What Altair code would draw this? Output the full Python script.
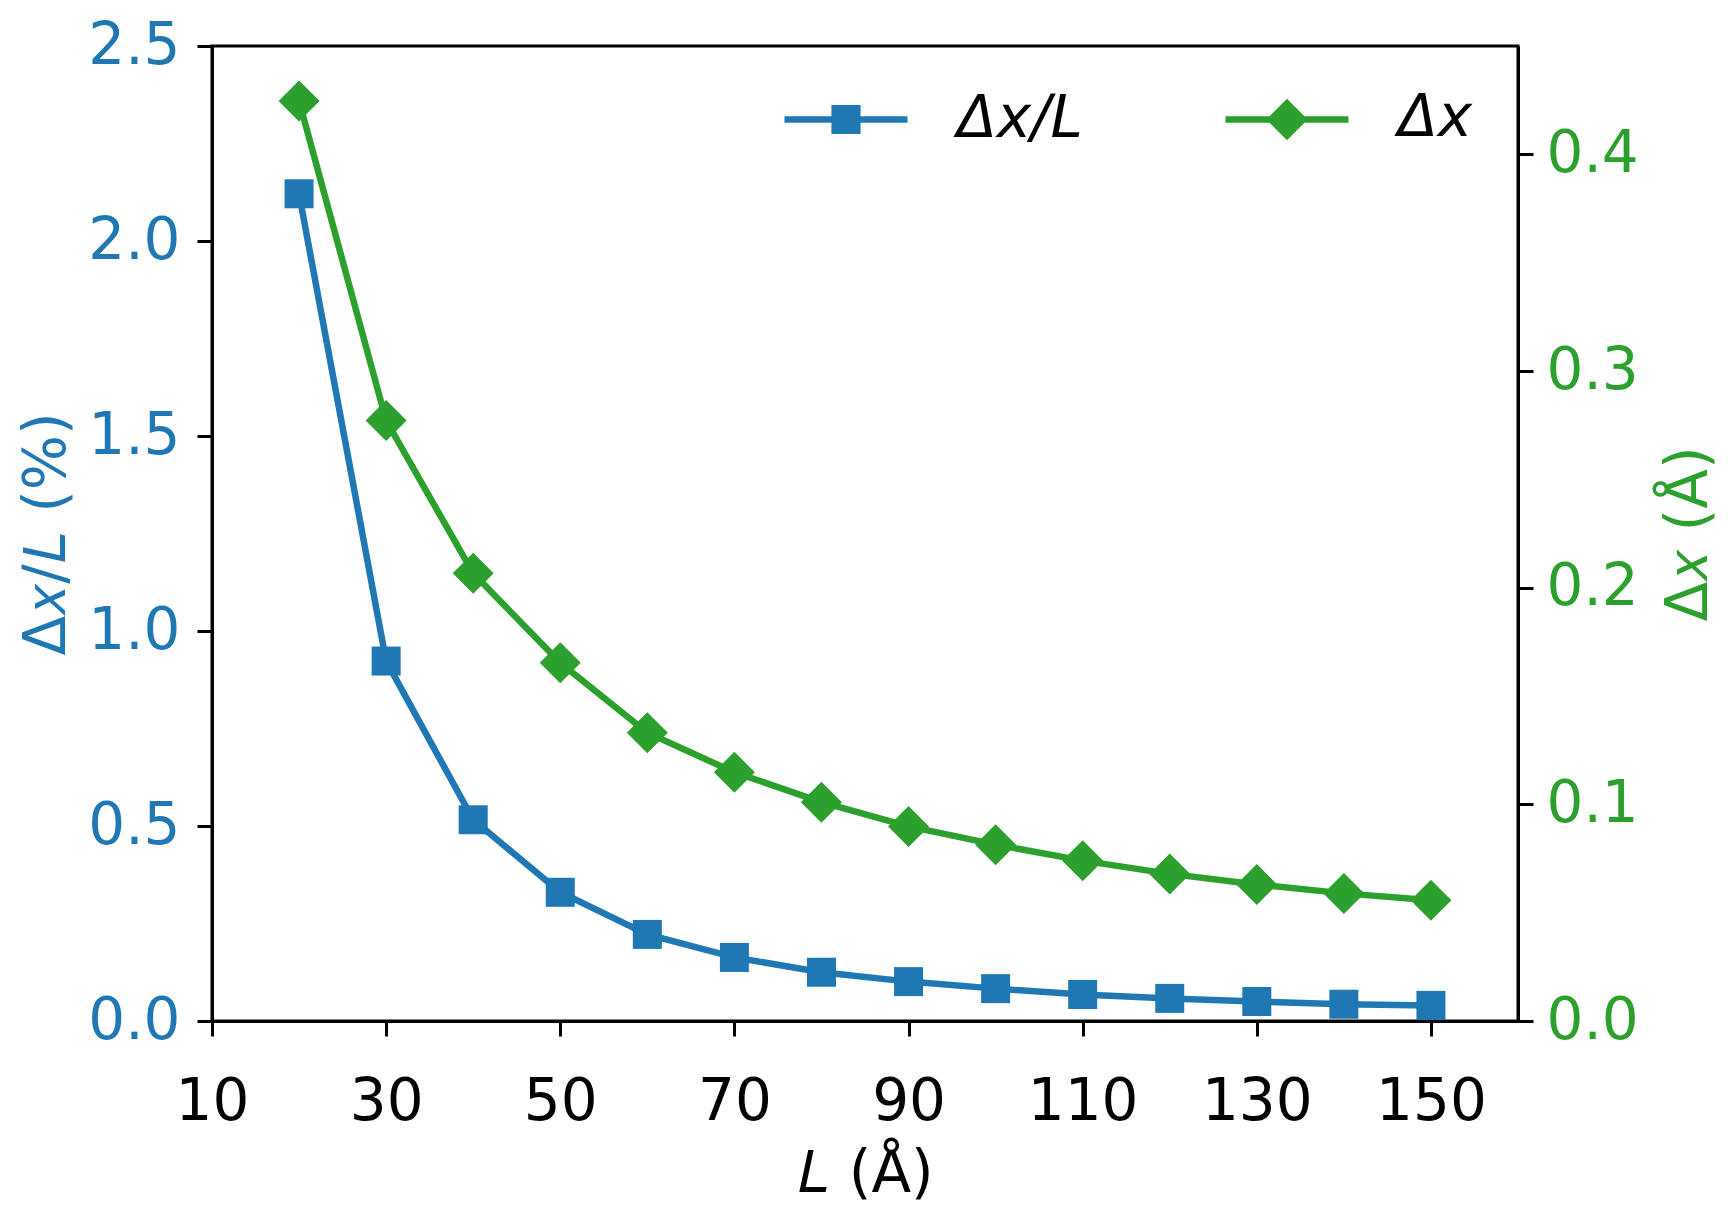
import altair as alt
import pandas as pd

# ---- data ----
L_vals = [20, 30, 40, 50, 60, 70, 80, 90, 100, 110, 120, 130, 140, 150]
dxL_vals = [2.121, 0.923, 0.516, 0.330, 0.222, 0.163, 0.125, 0.101, 0.083, 0.068, 0.058, 0.050, 0.043, 0.040]
dx_vals = [0.4246, 0.2771, 0.2066, 0.1653, 0.1330, 0.1148, 0.1010, 0.0898, 0.0814, 0.0740, 0.0679, 0.0630, 0.0589, 0.0557]
series = ["Δx/L", "Δx"]
colors = ["#1f77b4", "#2ca02c"]
x_ticks = [10, 30, 50, 70, 90, 110, 130, 150]
left_ticks = [0.0, 0.5, 1.0, 1.5, 2.0, 2.5]
right_ticks = [0.0, 0.1, 0.2, 0.3, 0.4]

df_b = pd.DataFrame({"L": L_vals, "v": dxL_vals, "s": series[0]})
df_g = pd.DataFrame({"L": L_vals, "v": dx_vals, "s": series[1]})
df_key = pd.DataFrame({"L": [L_vals[0], L_vals[0]], "v": [dxL_vals[0], dxL_vals[0]], "s": series})

FONT = "DejaVu Sans"
FS = 58
LW = 6.5

# legend glyphs: a line segment with the marker in the middle
sq_path = "M-1,0H1M-0.184,-0.184H0.184V0.184H-0.184Z"
dm_path = "M-1,0H1M-0.262,0L0,-0.262L0.262,0L0,0.262Z"

legend = alt.Legend(
    title=None,
    orient="none",
    legendX=569,
    legendY=8,
    direction="horizontal",
    columns=2,
    columnPadding=129,
    labelOffset=46,
    padding=0,
    symbolSize=15129,
    symbolStrokeWidth=LW,
    symbolOpacity=1,
    labelFontSize=FS,
    labelFont=FONT,
    labelFontStyle="italic",
    labelColor="black",
    labelLimit=500,
)

fill_scale = alt.Scale(domain=series, range=colors)
shape_scale = alt.Scale(domain=series, range=[sq_path, dm_path])

x_enc = alt.X(
    "L:Q",
    scale=alt.Scale(domain=[10, 160], nice=False, zero=False),
    axis=alt.Axis(values=x_ticks, format="d", title="𝐿 (Å)", labelPadding=37, titlePadding=14,
                  labelFlush=False),
)

y_left = alt.Y(
    "v:Q",
    scale=alt.Scale(domain=[0, 2.5], nice=False),
    axis=alt.Axis(
        orient="left", values=left_ticks, format=".1f", title="Δ𝑥/𝐿 (%)",
        labelColor=colors[0], titleColor=colors[0], labelPadding=17, titlePadding=11,
    ),
)
y_right = alt.Y(
    "v:Q",
    scale=alt.Scale(domain=[0, 0.45], nice=False),
    axis=alt.Axis(
        orient="right", values=right_ticks, format=".1f", title="Δ𝑥 (Å)",
        labelColor=colors[1], titleColor=colors[1], labelPadding=13, titlePadding=22,
        titleAngle=270, titleBaseline="top",
    ),
)

blue_line = alt.Chart(df_b).mark_line(strokeWidth=LW, color=colors[0]).encode(x=x_enc, y=y_left)
blue_pts = alt.Chart(df_b).mark_point(shape="square", filled=True, size=841, opacity=1, color=colors[0]).encode(
    x=x_enc, y=y_left
)
key = alt.Chart(df_key).mark_point(size=0, strokeWidth=LW, opacity=1).encode(
    x=x_enc,
    y=y_left,
    fill=alt.Fill("s:N", scale=fill_scale, legend=legend),
    stroke=alt.Stroke("s:N", scale=fill_scale, legend=legend),
    shape=alt.Shape("s:N", scale=shape_scale, legend=legend),
)
green_line = alt.Chart(df_g).mark_line(strokeWidth=LW, color=colors[1]).encode(x=x_enc, y=y_right)
green_pts = alt.Chart(df_g).mark_point(shape="diamond", filled=True, size=1681, opacity=1, color=colors[1]).encode(
    x=x_enc, y=y_right
)

chart = (
    alt.layer(alt.layer(blue_line, blue_pts, key), alt.layer(green_line, green_pts))
    .resolve_scale(y="independent")
    .properties(
        width=1306,
        height=975,
        autosize=alt.AutoSizeParams(type="none"),
        padding={"left": 204, "top": 38, "right": 202, "bottom": 186},
        background="white",
    )
    .configure_view(stroke="black", strokeWidth=3)
    .configure_axis(
        grid=False,
        domainColor="black",
        domainWidth=3,
        tickColor="black",
        tickWidth=3,
        tickSize=15,
        labelFont=FONT,
        labelFontSize=FS,
        titleFont=FONT,
        titleFontSize=FS,
        titleFontWeight="normal",
        labelColor="black",
        titleColor="black",
    )
)

chart.save("out.html", embed_options={"renderer": "svg", "actions": False})
